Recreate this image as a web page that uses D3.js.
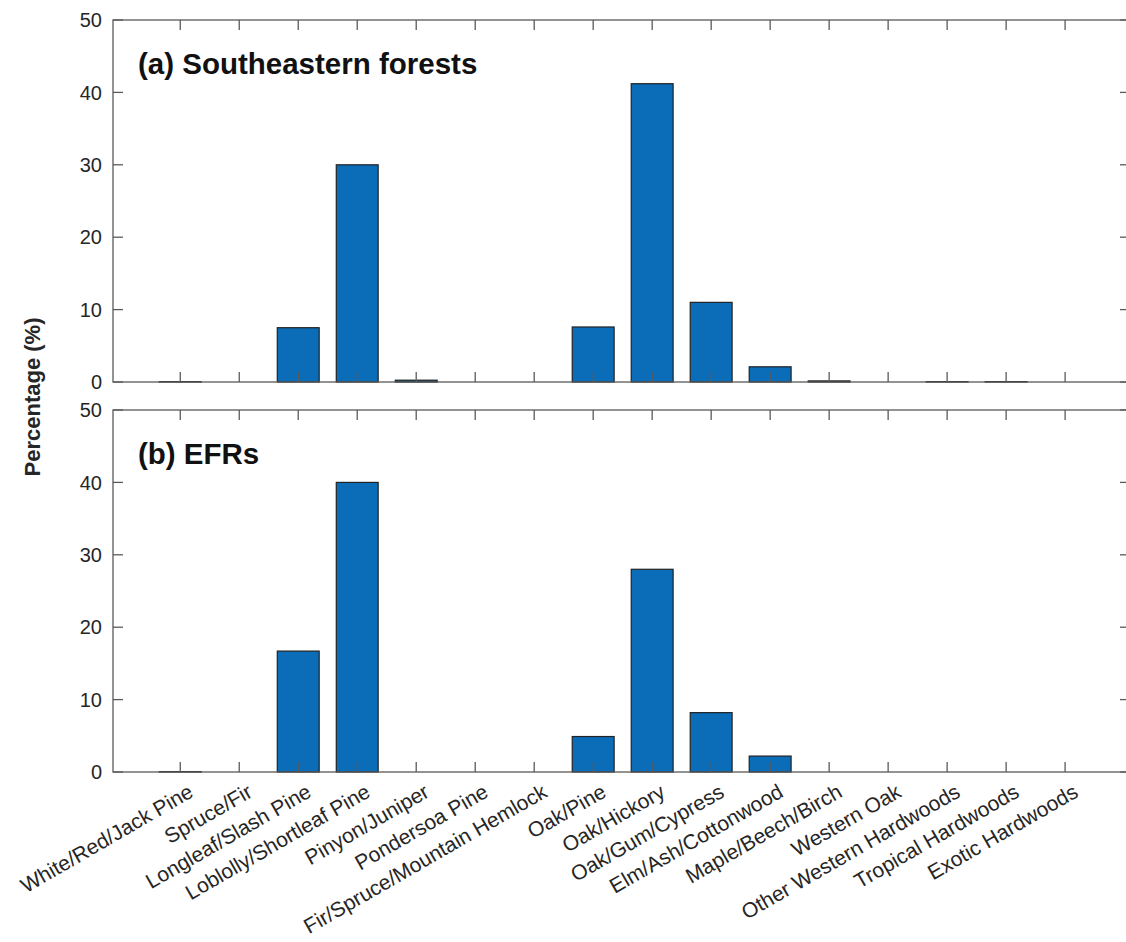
<!DOCTYPE html>
<html>
<head>
<meta charset="utf-8">
<script src="https://cdn.jsdelivr.net/npm/d3@7"></script>
<style>
  body { margin: 0; background: #fff; }
  text { font-family: "Liberation Sans", Arial, sans-serif; }
</style>
</head>
<body>
<div id="chart"></div>
<script>
const forestTypes = [
  "White/Red/Jack Pine", "Spruce/Fir", "Longleaf/Slash Pine", "Loblolly/Shortleaf Pine",
  "Pinyon/Juniper", "Pondersoa Pine", "Fir/Spruce/Mountain Hemlock", "Oak/Pine",
  "Oak/Hickory", "Oak/Gum/Cypress", "Elm/Ash/Cottonwood", "Maple/Beech/Birch",
  "Western Oak", "Other Western Hardwoods", "Tropical Hardwoods", "Exotic Hardwoods"
];

const southeastern = [0.05, 0, 7.5, 30, 0.25, 0, 0, 7.6, 41.2, 11, 2.1, 0.15, 0, 0.05, 0.05, 0];
const efrs = [0.05, 0, 16.7, 40, 0, 0, 0, 4.9, 28, 8.2, 2.2, 0, 0, 0, 0, 0];

const yTicks = [0, 10, 20, 30, 40, 50];

const panels = [
  { title: "(a) Southeastern forests", values: southeastern, top: 20 },
  { title: "(b) EFRs", values: efrs, top: 410 }
];

const W = 1126, H = 942;
const left = 113, right = 1130, panelH = 362;
const axisCol = "#5a5a5a", textCol = "#262626";

const svg = d3.select("#chart").append("svg")
  .attr("width", W)
  .attr("height", H);

const x = d3.scaleLinear().domain([-0.14, 17.1]).range([left, right]);
const barW = (x(1) - x(0)) * 0.71;

panels.forEach((p, pi) => {
  const y = d3.scaleLinear().domain([0, 50]).range([p.top + panelH, p.top]);
  const g = svg.append("g");

  // bars
  g.selectAll("rect")
    .data(p.values)
    .enter().append("rect")
      .attr("x", (d, i) => x(i + 1) - barW / 2)
      .attr("y", d => y(d))
      .attr("width", barW)
      .attr("height", d => y(0) - y(d))
      .attr("fill", "#0b6cb8")
      .attr("stroke", "#222")
      .attr("stroke-width", 1.2);

  // box
  g.append("rect")
    .attr("x", left).attr("y", p.top)
    .attr("width", right - left).attr("height", panelH)
    .attr("fill", "none")
    .attr("stroke", axisCol)
    .attr("stroke-width", 1.3);

  const tickLen = 10;
  const xt = d3.range(1, forestTypes.length + 1);

  // x ticks bottom and top (inward)
  g.selectAll(".xtb").data(xt).enter().append("line")
    .attr("x1", d => x(d)).attr("x2", d => x(d))
    .attr("y1", y(0)).attr("y2", y(0) - tickLen)
    .attr("stroke", axisCol).attr("stroke-width", 1.3);
  g.selectAll(".xtt").data(xt).enter().append("line")
    .attr("x1", d => x(d)).attr("x2", d => x(d))
    .attr("y1", y(50)).attr("y2", y(50) + tickLen)
    .attr("stroke", axisCol).attr("stroke-width", 1.3);

  // y ticks left and right (inward)
  g.selectAll(".ytl").data(yTicks).enter().append("line")
    .attr("x1", left).attr("x2", left + tickLen)
    .attr("y1", d => y(d)).attr("y2", d => y(d))
    .attr("stroke", axisCol).attr("stroke-width", 1.3);
  g.selectAll(".ytr").data(yTicks).enter().append("line")
    .attr("x1", right).attr("x2", right - tickLen)
    .attr("y1", d => y(d)).attr("y2", d => y(d))
    .attr("stroke", axisCol).attr("stroke-width", 1.3);

  g.selectAll(".ylab").data(yTicks).enter().append("text")
    .attr("x", left - 11)
    .attr("y", d => y(d))
    .attr("dy", "0.36em")
    .attr("text-anchor", "end")
    .attr("font-size", 20)
    .attr("fill", textCol)
    .text(d => d);

  g.append("text")
    .attr("x", 138)
    .attr("y", p.top + 54)
    .attr("font-size", 29.5)
    .attr("font-weight", "bold")
    .attr("fill", "#111")
    .text(p.title);

  // category labels under the bottom panel only
  if (pi === panels.length - 1) {
    g.selectAll(".xlab").data(forestTypes).enter().append("text")
      .attr("transform", (d, i) => `translate(${x(i + 1) + 7},${y(0) + 11}) rotate(-30)`)
      .attr("text-anchor", "end")
      .attr("dy", "0.71em")
      .attr("font-size", 21)
      .attr("fill", textCol)
      .text(d => d);
  }
});

svg.append("text")
  .attr("transform", "translate(40,397) rotate(-90)")
  .attr("text-anchor", "middle")
  .attr("font-size", 22)
  .attr("font-weight", "bold")
  .attr("fill", textCol)
  .text("Percentage (%)");
</script>
</body>
</html>
